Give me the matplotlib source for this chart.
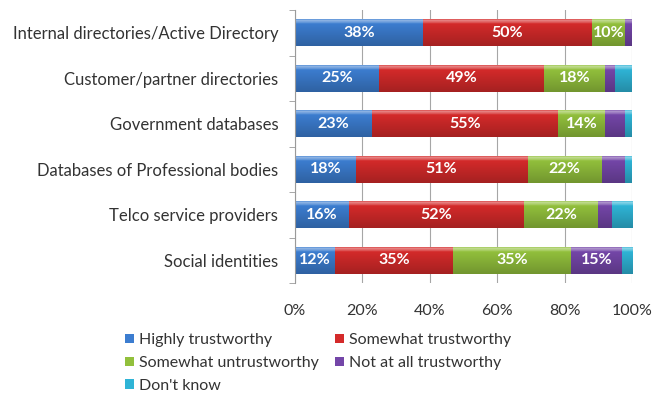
import matplotlib.pyplot as plt
import matplotlib.colors as mcolors
import numpy as np

plt.rcParams['font.family'] = ['Lato', 'DejaVu Sans']

categories = ["Internal directories/Active Directory", "Customer/partner directories",
              "Government databases", "Databases of Professional bodies",
              "Telco service providers", "Social identities"]
series = ["Highly trustworthy", "Somewhat trustworthy", "Somewhat untrustworthy",
          "Not at all trustworthy", "Don't know"]
highly = [38, 25, 23, 18, 16, 12]
somewhat = [50, 49, 55, 51, 52, 35]
untrust = [10, 18, 14, 22, 22, 35]
not_at_all = [2, 3, 6, 7, 4, 15]
dont_know = [0, 5, 2, 2, 6, 3]
xticks = [0, 20, 40, 60, 80, 100]

colors = ["#3c7dd0", "#d42a2a", "#92c03c", "#7446a8", "#2fb4d6"]

fig = plt.figure(figsize=(6.59, 4.0), dpi=100)
ax = fig.add_axes([0.4476, 0.2925, 0.5114, 0.6825])

y = np.arange(len(categories))
left = np.zeros(len(categories))
handles = []
for name, vals, col in zip(series, [highly, somewhat, untrust, not_at_all, dont_know], colors):
    vals = np.array(vals, dtype=float)
    bars = ax.barh(y, vals, left=left, height=0.59, color=col, edgecolor='none',
                   label=name, zorder=2)
    handles.append(bars)
    # vertical shading on each segment
    base = np.array(mcolors.to_rgb(col))
    t = np.linspace(0, 1, 32)[:, None]
    light = np.clip(base + 0.25 * (1 - base), 0, 1)
    dark = base * 0.78
    grad = np.where(t < 0.15, light + (base - light) * 0.2, base + (dark - base) * (t - 0.15) / 0.85)
    grad[1:3] = np.clip(base + 0.4 * (1 - base), 0, 1)
    img = np.repeat(grad[:, None, :], 2, axis=1)
    for rect in bars:
        if rect.get_width() <= 0:
            continue
        x0, y0 = rect.get_x(), rect.get_y()
        w, h = rect.get_width(), rect.get_height()
        im = ax.imshow(img, extent=[x0, x0 + w, y0 + h, y0], aspect='auto',
                       interpolation='bilinear', zorder=2.5)
        im.set_clip_path(rect)
    for v, l, yy in zip(vals, left, y):
        if v >= 10:
            ax.text(l + v / 2, yy, f"{int(v)}%", ha='center', va='center',
                    color='white', fontsize=11.5, fontweight='bold', zorder=4)
    left += vals

ax.set_xlim(0, 100)
ax.set_ylim(len(categories) - 0.5, -0.5)
ax.set_xticks(xticks)
ax.set_xticklabels([f"{v}%" for v in xticks], fontsize=11.5, color='#333333')
ax.set_yticks(y)
ax.set_yticklabels(categories, fontsize=12, color='#333333')
ax.set_yticks(np.arange(-0.5, len(categories)), minor=True)
ax.tick_params(axis='y', which='major', length=0, pad=12)
ax.tick_params(axis='y', which='minor', length=4, color='#9a9a9a')
ax.tick_params(axis='x', length=0, pad=15)
ax.grid(axis='x', color='#a6a6a6', linewidth=0.8, zorder=0)
for s in ['top', 'right', 'bottom']:
    ax.spines[s].set_visible(False)
ax.spines['left'].set_color('#9a9a9a')

# legend laid out row by row: two entries per row
order = [0, 2, 4, 1, 3]
fig.legend([handles[i] for i in order], [series[i] for i in order], ncol=2,
           loc='upper left', bbox_to_anchor=(0.19, 0.167), frameon=False,
           fontsize=11.5, handlelength=0.55, handleheight=0.55, handletextpad=0.3,
           columnspacing=1.05, labelspacing=0.55, borderaxespad=0, borderpad=0,
           labelcolor='#333333')

fig.savefig("out.png", dpi=100)
